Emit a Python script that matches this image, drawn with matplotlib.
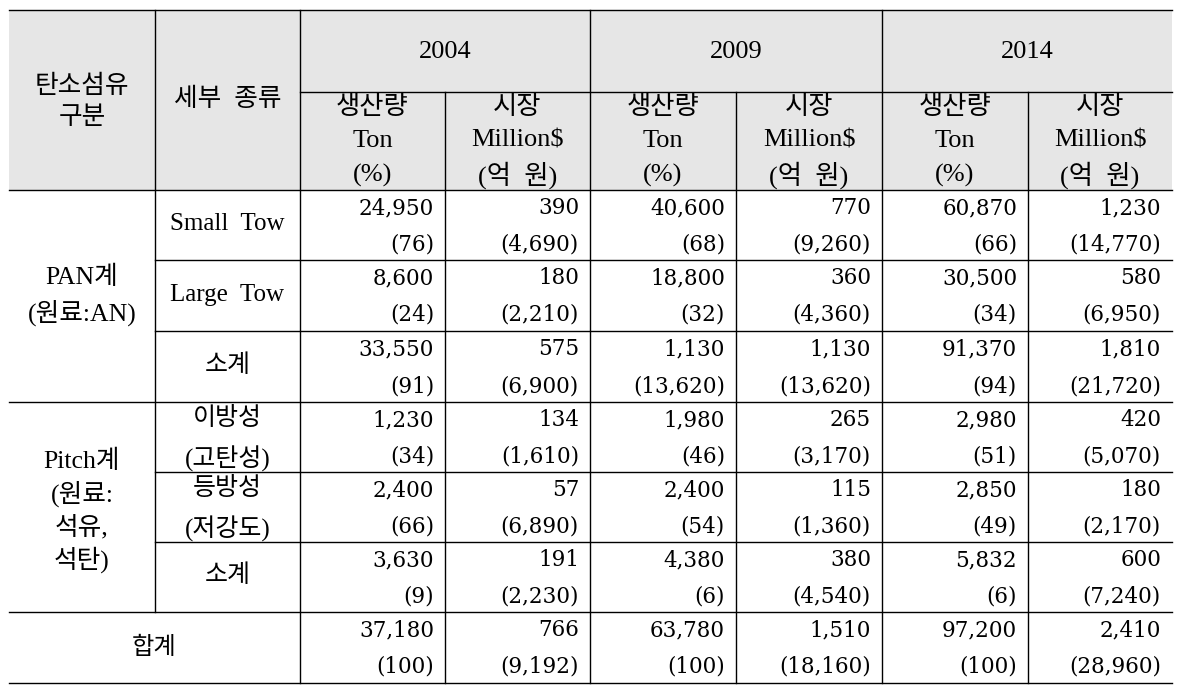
import matplotlib
matplotlib.use("Agg")
import matplotlib.pyplot as plt

# ---- data ----
years = ["2004", "2009", "2014"]
sub_heads = ["생산량\nTon\n(%)", "시장\nMillion$\n(억  원)"]
groups = ["PAN계\n(원료:AN)", "Pitch계\n(원료:\n석유,\n석탄)"]
row_labels = ["Small  Tow", "Large  Tow", "소계", "이방성\n(고탄성)", "등방성\n(저강도)", "소계", "합계"]
vals_top = [
    ["24,950", "390", "40,600", "770", "60,870", "1,230"],
    ["8,600", "180", "18,800", "360", "30,500", "580"],
    ["33,550", "575", "1,130", "1,130", "91,370", "1,810"],
    ["1,230", "134", "1,980", "265", "2,980", "420"],
    ["2,400", "57", "2,400", "115", "2,850", "180"],
    ["3,630", "191", "4,380", "380", "5,832", "600"],
    ["37,180", "766", "63,780", "1,510", "97,200", "2,410"],
]
vals_bot = [
    ["(76)", "(4,690)", "(68)", "(9,260)", "(66)", "(14,770)"],
    ["(24)", "(2,210)", "(32)", "(4,360)", "(34)", "(6,950)"],
    ["(91)", "(6,900)", "(13,620)", "(13,620)", "(94)", "(21,720)"],
    ["(34)", "(1,610)", "(46)", "(3,170)", "(51)", "(5,070)"],
    ["(66)", "(6,890)", "(54)", "(1,360)", "(49)", "(2,170)"],
    ["(9)", "(2,230)", "(6)", "(4,540)", "(6)", "(7,240)"],
    ["(100)", "(9,192)", "(100)", "(18,160)", "(100)", "(28,960)"],
]

# ---- layout (pixel coords) ----
xs = [9, 155, 300, 445, 590, 736, 882, 1028, 1172]
ys = [10, 92, 190, 260, 331, 402, 472, 542, 612, 683]
MIX = ["Liberation Serif", "Noto Sans CJK KR"]
NUM = ["DejaVu Serif"]
KW = dict(ha="center", va="center", family=MIX, fontweight="light")

fig = plt.figure(figsize=(11.78, 6.89), dpi=100)
ax = fig.add_axes([0, 0, 1, 1])
ax.set_xlim(0, 1178); ax.set_ylim(689, 0); ax.axis("off")

ax.fill_between([xs[0], xs[-1]], ys[0], ys[2], color="#e6e6e6", lw=0)

lk = dict(color="black", lw=1.0)
# horizontal rules
for y in (ys[0], ys[2], ys[5], ys[8], ys[9]):
    ax.plot([xs[0], xs[-1]], [y, y], **lk)
ax.plot([xs[2], xs[-1]], [ys[1], ys[1]], **lk)
for y in (ys[3], ys[4], ys[6], ys[7]):
    ax.plot([xs[1], xs[-1]], [y, y], **lk)
# vertical rules
ax.plot([xs[1], xs[1]], [ys[0], ys[8]], **lk)
for x in (xs[2], xs[4], xs[6]):
    ax.plot([x, x], [ys[0], ys[9]], **lk)
for x in (xs[3], xs[5], xs[7]):
    ax.plot([x, x], [ys[1], ys[9]], **lk)

def lines(x, y_first, step, txt, size):
    for k, ln in enumerate(txt.split("\n")):
        ax.text(x, y_first + step * k, ln, fontsize=size, **KW)

# header
lines((xs[0] + xs[1]) / 2, 86, 32, "탄소섬유\n구분", 18.5)
lines((xs[1] + xs[2]) / 2, 99, 0, "세부  종류", 18.5)
for i, yr in enumerate(years):
    lines((xs[2 + 2 * i] + xs[4 + 2 * i]) / 2, 52, 0, yr, 19)
    for j, sh in enumerate(sub_heads):
        lines((xs[2 + 2 * i + j] + xs[3 + 2 * i + j]) / 2, 107, 34, sh, 19)

# group labels
lines((xs[0] + xs[1]) / 2, 277, 36, groups[0], 18.5)
lines((xs[0] + xs[1]) / 2, 461, 33, groups[1], 18.5)

# row labels and values
for r, lab in enumerate(row_labels):
    y0, y1 = ys[2 + r], ys[3 + r]
    if r == len(row_labels) - 1:
        lines((xs[0] + xs[2]) / 2, (y0 + y1) / 2, 0, lab, 17.5)
    elif "\n" in lab:
        lines((xs[1] + xs[2]) / 2, y0 + 16, 41, lab, 18)
    else:
        lines((xs[1] + xs[2]) / 2, (y0 + y1) / 2 - 1, 0, lab, 18)
    for c in range(6):
        xr = xs[3 + c] - 11
        ax.text(xr, y0 + 18, vals_top[r][c], ha="right", va="center", family=NUM, fontsize=15.5)
        ax.text(xr, y0 + 55, vals_bot[r][c], ha="right", va="center", family=NUM, fontsize=15.5)

fig.savefig("out.png", dpi=100)
